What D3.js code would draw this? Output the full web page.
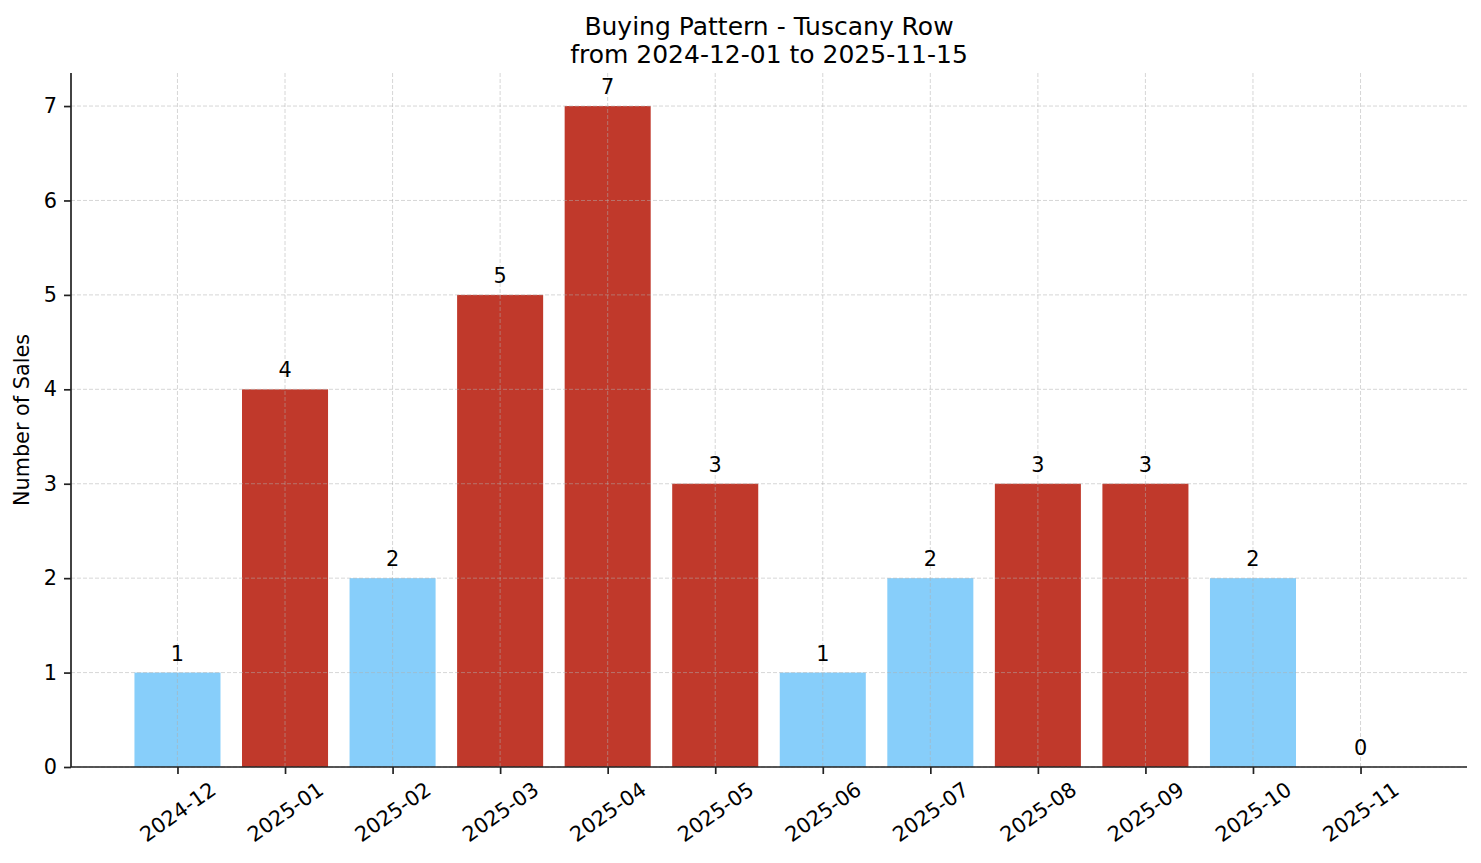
<!DOCTYPE html>
<html>
<head>
<meta charset="utf-8">
<script src="https://cdn.jsdelivr.net/npm/d3@7"></script>
<style>
  body { margin: 0; background: #fff; }
  text { font-family: "DejaVu Sans", sans-serif; fill: #000; }
</style>
</head>
<body>
<div id="chart"></div>
<script>
// data
var months = ["2024-12", "2025-01", "2025-02", "2025-03", "2025-04", "2025-05",
              "2025-06", "2025-07", "2025-08", "2025-09", "2025-10", "2025-11"];
var sales = [1, 4, 2, 5, 7, 3, 1, 2, 3, 3, 2, 0];
var yTicks = [0, 1, 2, 3, 4, 5, 6, 7];
var titleLines = ["Buying Pattern - Tuscany Row", "from 2024-12-01 to 2025-11-15"];

var chart_width = 1481;
var chart_height = 863;
var margin = {left: 71, right: 14, top: 73, bottom: 96};
var plot_w = chart_width - margin.left - margin.right;
var plot_h = chart_height - margin.top - margin.bottom;

var svg = d3.select("#chart")
        .append("svg")
        .attr("width", chart_width)
        .attr("height", chart_height);

// x is a linear scale over bar index, with matplotlib-like margins
var x = d3.scaleLinear()
        .domain([-0.99, months.length - 1 + 0.99])
        .range([margin.left, margin.left + plot_w]);
var barW = x(0.8) - x(0);
var y = d3.scaleLinear()
        .domain([0, 7.35])
        .range([margin.top + plot_h, margin.top]);

// bars
svg.selectAll("rect.bar")
        .data(sales)
        .enter()
        .append("rect")
        .attr("class", "bar")
        .attr("x", function (d, i) { return x(i) - barW / 2; })
        .attr("y", function (d) { return y(d); })
        .attr("width", barW)
        .attr("height", function (d) { return y(0) - y(d); })
        .attr("fill", function (d) { return d >= 3 ? "#c0392b" : "#87cefa"; });

// grid, drawn over the bars like the original
var grid = svg.append("g").attr("stroke", "#b0b0b0").attr("stroke-opacity", 0.5)
        .attr("stroke-width", 1).attr("stroke-dasharray", "4,2");
grid.selectAll("line.gx")
        .data(months)
        .enter()
        .append("line")
        .attr("x1", function (d, i) { return x(i); })
        .attr("x2", function (d, i) { return x(i); })
        .attr("y1", y(0))
        .attr("y2", margin.top);
grid.selectAll("line.gy")
        .data(yTicks)
        .enter()
        .append("line")
        .attr("x1", margin.left)
        .attr("x2", margin.left + plot_w)
        .attr("y1", function (d) { return y(d); })
        .attr("y2", function (d) { return y(d); });

// value labels
svg.selectAll("text.val")
        .data(sales)
        .enter()
        .append("text")
        .attr("class", "val")
        .attr("x", function (d, i) { return x(i); })
        .attr("y", function (d) { return y(d) - 12; })
        .attr("text-anchor", "middle")
        .style("font-size", "20.8px")
        .text(function (d) { return d; });

// y axis
var yAxis = svg.append("g")
        .attr("transform", "translate(" + margin.left + ",0)")
        .call(d3.axisLeft(y).tickValues(yTicks).tickSize(7).tickPadding(7).tickFormat(d3.format("d")));
yAxis.selectAll("text").style("font-size", "20.8px").attr("fill", "#000");

// x axis
var xAxis = svg.append("g")
        .attr("transform", "translate(0," + y(0) + ")")
        .call(d3.axisBottom(x).tickValues(d3.range(months.length)).tickSize(7)
                .tickFormat(function (i) { return months[i]; }));
xAxis.selectAll("text")
        .style("font-size", "20.8px")
        .attr("fill", "#000")
        .attr("y", 0)
        .attr("dy", null)
        .attr("dominant-baseline", "central")
        .attr("text-anchor", "middle")
        .attr("transform", "translate(0,45) rotate(-35)");

// spines
[yAxis, xAxis].forEach(function (a) {
    a.select(".domain").attr("stroke", "#222").attr("stroke-width", 1.7);
    a.selectAll(".tick line").attr("stroke", "#222").attr("stroke-width", 1.7);
});
xAxis.select(".domain").attr("d", "M" + margin.left + ",0H" + (margin.left + plot_w));
yAxis.select(".domain").attr("d", "M0," + y(0) + "V" + margin.top);

// y label
svg.append("text")
        .attr("transform", "translate(29," + (margin.top + plot_h / 2) + ") rotate(-90)")
        .attr("text-anchor", "middle")
        .style("font-size", "20.8px")
        .text("Number of Sales");

// title
svg.selectAll("text.title")
        .data(titleLines)
        .enter()
        .append("text")
        .attr("class", "title")
        .attr("x", margin.left + plot_w / 2)
        .attr("y", function (d, i) { return 35 + i * 28; })
        .attr("text-anchor", "middle")
        .style("font-size", "25px")
        .text(function (d) { return d; });
</script>
</body>
</html>
